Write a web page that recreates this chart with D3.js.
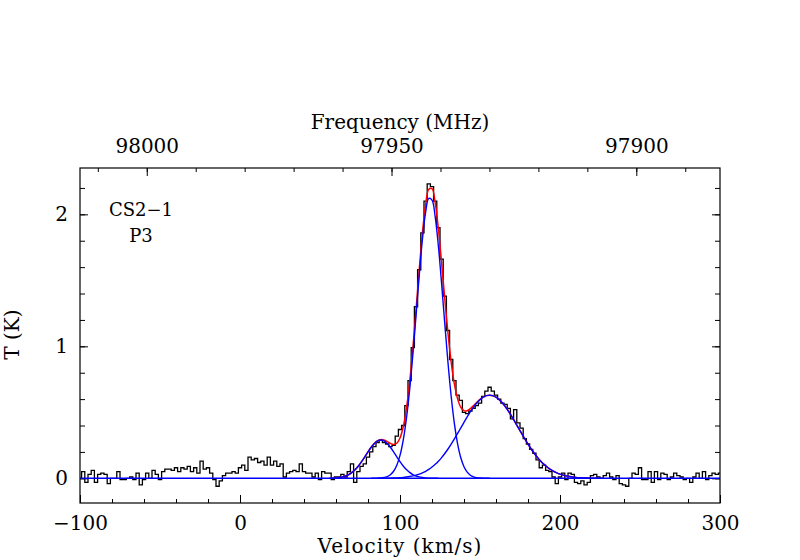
<!DOCTYPE html>
<html>
<head>
<meta charset="utf-8">
<script src="https://cdn.jsdelivr.net/npm/d3@7"></script>
<style>
  body { margin: 0; background: #fff; }
  text { font-family: "DejaVu Serif", serif; font-size: 20px; fill: #000; }
  text.note { font-size: 18px; }
</style>
</head>
<body>
<svg id="chart" width="800" height="560"></svg>
<script>
// observed spectrum: one value (K) per 2 km/s channel, -100 ... 300 km/s
const chanStart = -100;
const chanWidth = 2;
const spectrum = [
  0.00, 0.05, -0.03, 0.03, 0.06, -0.03, 0.03, 0.04, 0.03, -0.04,
  0.00, 0.00, 0.05, -0.01, -0.01, 0.00, 0.01, -0.01, 0.04, -0.05,
  -0.01, 0.04, 0.00, 0.06, 0.03, -0.01, 0.05, 0.07, 0.07, 0.06,
  0.08, 0.05, 0.08, 0.07, 0.09, 0.05, 0.08, 0.04, 0.13, 0.07,
  0.08, 0.04, -0.01, -0.06, -0.02, 0.02, 0.04, 0.04, 0.05, 0.04,
  0.08, 0.10, 0.06, 0.16, 0.14, 0.15, 0.12, 0.13, 0.10, 0.16,
  0.10, 0.13, 0.09, 0.11, 0.01, 0.04, 0.05, 0.06, 0.05, 0.11,
  0.05, 0.04, 0.04, 0.01, 0.04, -0.01, 0.05, 0.04, 0.04, -0.01,
  0.01, 0.01, 0.03, 0.01, 0.05, 0.11, -0.03, 0.05, 0.09, 0.11,
  0.16, 0.20, 0.24, 0.27, 0.29, 0.27, 0.26, 0.24, 0.25, 0.32,
  0.37, 0.40, 0.55, 0.74, 0.99, 1.30, 1.58, 1.86, 2.10, 2.23,
  2.21, 2.10, 1.90, 1.66, 1.38, 1.12, 0.90, 0.74, 0.63, 0.59,
  0.50, 0.49, 0.51, 0.53, 0.55, 0.57, 0.62, 0.66, 0.69, 0.66,
  0.63, 0.60, 0.57, 0.56, 0.53, 0.45, 0.52, 0.42, 0.38, 0.30,
  0.26, 0.22, 0.19, 0.14, 0.08, 0.10, 0.06, 0.05, 0.01, -0.04,
  0.01, 0.04, -0.01, 0.04, 0.03, -0.03, -0.04, -0.02, -0.05, -0.03,
  0.02, 0.03, 0.01, 0.00, 0.02, 0.04, 0.01, -0.01, 0.02, -0.04,
  -0.05, -0.06, 0.00, 0.04, 0.03, 0.08, -0.01, -0.01, 0.05, -0.03,
  0.05, -0.01, 0.04, 0.03, -0.01, 0.01, 0.04, 0.02, 0.01, -0.01,
  0.00, -0.03, 0.01, 0.04, 0.00, 0.05, -0.01, 0.02, 0.04, 0.03,
  0.04
];

// gaussian fit components, every 2 km/s
const fitStep = 2;
const fit1Start = 56;
const fit1 = [
  0.0008, 0.0016, 0.0031, 0.0058, 0.0104, 0.0177, 0.0287, 0.0446, 0.0660, 0.0934,
  0.1262, 0.1627, 0.2003, 0.2355, 0.2644, 0.2834, 0.2900, 0.2834, 0.2644, 0.2355,
  0.2003, 0.1627, 0.1262, 0.0934, 0.0660, 0.0446, 0.0287, 0.0177, 0.0104, 0.0058,
  0.0031, 0.0016, 0.0008, 0.0004, 0.0001
];
const fit2Start = 82;
const fit2 = [
  0.0001, 0.0004, 0.0010, 0.0026, 0.0060, 0.0131, 0.0272, 0.0535, 0.0992, 0.1740,
  0.2883, 0.4511, 0.6671, 0.9321, 1.2303, 1.5349, 1.8090, 2.0150, 2.1203, 2.1082,
  1.9809, 1.7585, 1.4750, 1.1692, 0.8756, 0.6196, 0.4143, 0.2618, 0.1562, 0.0881,
  0.0470, 0.0236, 0.0112, 0.0051, 0.0022, 0.0009, 0.0003, 0.0001
];
const fit3Start = 86;
const fit3 = [
  0.0003, 0.0005, 0.0008, 0.0011, 0.0017, 0.0024, 0.0035, 0.0050, 0.0070, 0.0097,
  0.0133, 0.0180, 0.0240, 0.0317, 0.0414, 0.0533, 0.0679, 0.0853, 0.1058, 0.1297,
  0.1571, 0.1879, 0.2220, 0.2590, 0.2985, 0.3398, 0.3821, 0.4244, 0.4656, 0.5045,
  0.5399, 0.5707, 0.5960, 0.6146, 0.6261, 0.6300, 0.6261, 0.6146, 0.5960, 0.5707,
  0.5399, 0.5045, 0.4656, 0.4244, 0.3821, 0.3398, 0.2985, 0.2590, 0.2220, 0.1879,
  0.1571, 0.1297, 0.1058, 0.0853, 0.0679, 0.0533, 0.0414, 0.0317, 0.0240, 0.0180,
  0.0133, 0.0097, 0.0070, 0.0050, 0.0035, 0.0024, 0.0017, 0.0011, 0.0008, 0.0005,
  0.0003
];

const velTicks = [-100, 0, 100, 200, 300];
const freqTicks = [98000, 97950, 97900];
const tempTicks = [0, 1, 2];
const restFreq = 97980.953;   // MHz, CS 2-1
const lineLabels = ["CS2\u22121", "P3"];

let svg = d3.select("#chart");
let margin = {top: 168, left: 80};
let width = 640, height = 335;

let x = d3.scaleLinear().domain([-100, 300]).range([0, width]);
let y = d3.scaleLinear().domain([-0.187, 2.351]).range([height, 0]);
// top axis: radio convention frequency of the same velocities
let c = 299792.458;
let fx = d3.scaleLinear()
    .domain(x.domain().map(function (v) { return restFreq * (1 - v / c); }))
    .range(x.range());

let g = svg.append("g")
    .attr("transform", "translate(" + margin.left + "," + margin.top + ")");

g.append("clipPath").attr("id", "clip")
    .append("rect").attr("width", width).attr("height", height);

function noDomain(sel) { sel.select(".domain").remove(); }

// velocity axis (bottom)
g.append("g").attr("transform", "translate(0," + height + ")")
    .call(d3.axisBottom(x).tickValues(d3.range(-100, 301, 20)).tickSize(-4).tickFormat(""))
    .call(noDomain);
g.append("g").attr("transform", "translate(0," + height + ")")
    .call(d3.axisBottom(x).tickValues(velTicks).tickSize(-8).tickPadding(13))
    .call(noDomain);

// frequency axis (top)
g.append("g")
    .call(d3.axisTop(fx).tickValues(d3.range(97890, 98011, 10)).tickSize(-4).tickFormat(""))
    .call(noDomain);
g.append("g")
    .call(d3.axisTop(fx).tickValues(freqTicks).tickSize(-8).tickPadding(15).tickFormat(d3.format("d")))
    .call(noDomain);

// temperature axes (left, right)
let minorT = d3.range(0, 12).map(function (i) { return i * 0.2; });
g.append("g")
    .call(d3.axisLeft(y).tickValues(minorT).tickSize(-5).tickFormat(""))
    .call(noDomain);
g.append("g")
    .call(d3.axisLeft(y).tickValues(tempTicks).tickSize(-8).tickPadding(12).tickFormat(d3.format("d")))
    .call(noDomain);
g.append("g").attr("transform", "translate(" + width + ",0)")
    .call(d3.axisRight(y).tickValues(minorT).tickSize(-5).tickFormat(""))
    .call(noDomain);
g.append("g").attr("transform", "translate(" + width + ",0)")
    .call(d3.axisRight(y).tickValues(tempTicks).tickSize(-8).tickFormat(""))
    .call(noDomain);

// data
let plot = g.append("g").attr("clip-path", "url(#clip)");

let chans = spectrum.map(function (t, i) { return [chanStart + i * chanWidth, t]; });
plot.append("path")
    .datum(chans)
    .attr("fill", "none")
    .attr("stroke", "#000")
    .attr("stroke-width", 1.3)
    .attr("d", d3.line().curve(d3.curveStep)
        .x(function (d) { return x(d[0]); })
        .y(function (d) { return y(d[1]); }));

let comps = [[fit1Start, fit1], [fit2Start, fit2], [fit3Start, fit3]];
let sumMap = new Map();
comps.forEach(function (cp) {
    cp[1].forEach(function (t, i) {
        let v = cp[0] + i * fitStep;
        sumMap.set(v, (sumMap.get(v) || 0) + t);
    });
});
let fitSum = Array.from(sumMap).sort(function (a, b) { return a[0] - b[0]; });

let smooth = d3.line().curve(d3.curveCatmullRom.alpha(0.5))
    .x(function (d) { return x(d[0]); })
    .y(function (d) { return y(d[1]); });

plot.append("path")
    .datum(fitSum)
    .attr("fill", "none")
    .attr("stroke", "#ff0000")
    .attr("stroke-width", 1.5)
    .attr("d", smooth);

comps.forEach(function (cp) {
    plot.append("path")
        .datum(cp[1].map(function (t, i) { return [cp[0] + i * fitStep, t]; }))
        .attr("fill", "none")
        .attr("stroke", "#0000ff")
        .attr("stroke-width", 1.4)
        .attr("d", smooth);
});

plot.append("line")
    .attr("x1", 0).attr("x2", width)
    .attr("y1", y(0)).attr("y2", y(0))
    .attr("stroke", "#0000ff")
    .attr("stroke-width", 1.5);

// frame
g.append("rect")
    .attr("width", width).attr("height", height)
    .attr("fill", "none")
    .attr("stroke", "#000")
    .attr("stroke-width", 1.2);

// titles
g.append("text")
    .attr("x", width / 2).attr("y", -39)
    .attr("text-anchor", "middle")
    .text("Frequency (MHz)");
g.append("text")
    .attr("x", width / 2).attr("y", height + 50)
    .attr("text-anchor", "middle")
    .attr("letter-spacing", 1)
    .text("Velocity (km/s)");
g.append("text")
    .attr("transform", "translate(" + (-61) + "," + (height / 2 - 1) + ") rotate(-90)")
    .attr("text-anchor", "middle")
    .text("T (K)");

g.selectAll(".note")
    .data(lineLabels)
    .enter().append("text")
    .attr("class", "note")
    .attr("x", 61)
    .attr("y", function (d, i) { return 48 + i * 26; })
    .attr("text-anchor", "middle")
    .text(function (d) { return d; });
</script>
</body>
</html>
